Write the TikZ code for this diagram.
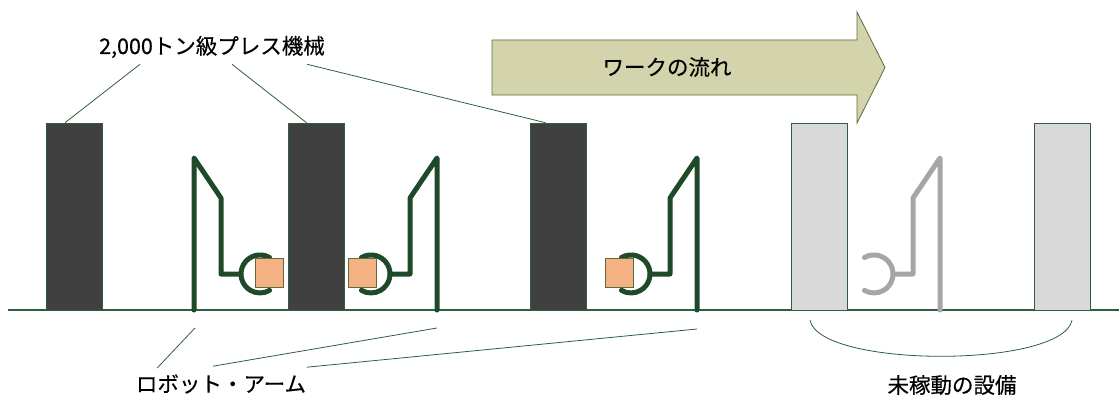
\documentclass[tikz,border=0pt]{standalone}
\usepackage{fontspec}
\newfontfamily\jfont[FakeBold=0.4]{Noto Sans CJK JP}
\usetikzlibrary{calc, positioning}

\definecolor{armgreen}{HTML}{1E4A2A}
\definecolor{linegreen}{HTML}{2F5F3A}
\definecolor{pressgray}{HTML}{404040}
\definecolor{idlegray}{HTML}{D9D9D9}
\definecolor{idlearm}{HTML}{A6A6A6}
\definecolor{workorange}{HTML}{F4B183}
\definecolor{flowfill}{HTML}{D3D4AC}
\definecolor{flowedge}{HTML}{5F6B3A}

\tikzset{
  press/.style={rectangle, draw=linegreen, line width=0.6pt, fill=pressgray,
    minimum width=56pt, minimum height=187pt, inner sep=0pt},
  idlepress/.style={press, fill=idlegray},
  work/.style={rectangle, draw=flowedge, line width=0.6pt, fill=workorange,
    minimum width=28pt, minimum height=29pt, inner sep=0pt},
  callout/.style={linegreen, line width=0.8pt},
  label/.style={font=\jfont\fontsize{21.5}{24}\selectfont, inner sep=0pt},
  arm/.pic={
    \draw[line width=5pt, line cap=round, line join=round]
      (0,0) -- (0,-152) -- (-27,-112) -- (-27,-36) -- (-47,-36);
    \draw[line width=5pt, line cap=round]
      (-75.5,-52.5) arc[start angle=-120, end angle=120, radius=19];
  },
}

\begin{document}
\begin{tikzpicture}[x=1pt, y=-1pt]
    \useasboundingbox (0,0) rectangle (1119,396);

    % floor
    \draw[linegreen, line width=1.2pt] (8,310) -- (1119,310);

    % presses
    \node[press] (press1) at (74,216.5) {};
    \node[press] (press2) at (316.5,216.5) {};
    \node[press] (press3) at (558.5,216.5) {};
    \node[idlepress] (idle1) at (819,216.5) {};
    \node[idlepress] (idle2) at (1062,216.5) {};

    % robot arms
    \coordinate (base1) at (194,310);
    \coordinate (base2) at (437,310);
    \coordinate (base3) at (697,310);
    \coordinate (base4) at (940,310);
    \pic[armgreen, xscale=-1] at (base1) {arm};
    \pic[armgreen] at (base2) {arm};
    \pic[armgreen] at (base3) {arm};
    \pic[idlearm] at (base4) {arm};

    \node[work] (work1) at (269,272.5) {};
    \node[work] (work2) at (362.5,272.5) {};
    \node[work] (work3) at (619,272.5) {};

    % flow arrow
    \draw[flowedge, fill=flowfill, line width=0.8pt]
      (492,40) -- (857,40) -- (857,12) -- (885,67.5) -- (857,123) -- (857,95) -- (492,95) -- cycle;
    \node[label] (flow) at (667,67) {ワークの流れ};

    % labels and callouts
    \node[label] (presslabel) at (212,47) {2,000トン級プレス機械};
    \draw[callout] ($(presslabel.south)+(-72,6)$) -- ($(press1.north)+(-9,0)$);
    \draw[callout] ($(presslabel.south)+(20,6)$) -- ($(press2.north)+(-10,0)$);
    \draw[callout] ($(presslabel.south)+(95,6)$) -- ($(press3.north)+(-13,0)$);

    \node[label] (armlabel) at (221,384) {ロボット・アーム};
    \draw[callout] ($(armlabel.north)+(-64,-6)$) -- ($(base1)+(1,18)$);
    \draw[callout] ($(armlabel.north)+(-8,-8)$) -- ($(base2)+(0,18)$);
    \draw[callout] ($(armlabel.north)+(86,-7)$) -- ($(base3)+(0,19)$);

    \node[label] (idlelabel) at (952,385) {未稼動の設備};
    \draw[callout] ($(idle1.south)+(-9,10)$)
      .. controls ($(idle1.south)+(1,58)$) and ($(idle2.south)+(0,58)$) .. ($(idle2.south)+(10,10)$);
\end{tikzpicture}
\end{document}
